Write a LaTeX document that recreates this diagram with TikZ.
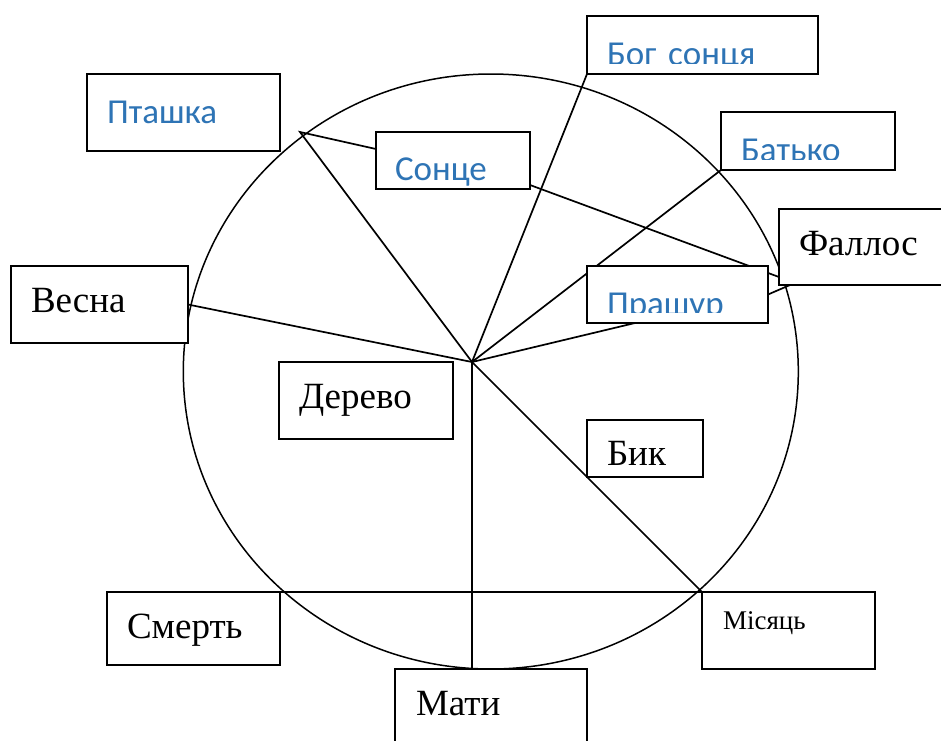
\documentclass[tikz,border=0pt]{standalone}
\usepackage{fontspec}
\setmainfont{Liberation Serif}
\newfontfamily\calibri{Carlito}
\usepackage{xcolor}
\usetikzlibrary{
    backgrounds,
    calc
}
\definecolor{wordblue}{HTML}{2E74B5}
\tikzset{box/.style={draw, fill=white, line width=1.9pt, anchor=north west, inner ysep=0pt, outer sep=0pt, align=left}}
\tikzset{big/.style={font=\fontsize{37}{40}\selectfont}}
\tikzset{blu/.style={font=\calibri\fontsize{35}{38}\selectfont, text=wordblue}}
\tikzset{link/.style={line width=1.7pt}}

\begin{document}
\begin{tikzpicture}[x=1pt, y=-1pt]
    \useasboundingbox (0,0) rectangle (941,740);
    \coordinate (hub) at (472,362);
    \coordinate (bird) at (300,132);
    % boxes
    \node[box, blu, inner xsep=20pt, text width=153pt, text height=49pt, text depth=28pt] (ptashka) at (87,74) {Пташка};
    \node[box, blu, inner xsep=19pt, text width=116pt, text height=48pt, text depth=9pt] (sontse) at (376,132) {Сонце};
    \node[box, blu, inner xsep=20pt, text width=191pt, text height=49pt, text depth=9pt] (bog) at (587,16) {Бог сонця};
    \node[box, blu, inner xsep=20pt, text width=134pt, text height=49pt, text depth=9pt] (batko) at (721,112) {Батько};
    \node[box, blu, inner xsep=20pt, text width=141pt, text height=49pt, text depth=8pt] (prashur) at (587,266) {Прашур};
    \node[box, big, inner xsep=20pt, text width=126pt, text height=46pt, text depth=30pt] (fallos) at (779,209) {Фаллос};
    \node[box, big, inner xsep=20pt, text width=137pt, text height=46pt, text depth=31pt] (vesna) at (11,266) {Весна};
    \node[box, big, inner xsep=20pt, text width=134pt, text height=46pt, text depth=31pt] (derevo) at (279,362) {Дерево};
    \node[box, big, inner xsep=20pt, text width=76pt, text height=45pt, text depth=12pt] (byk) at (587,420) {Бик};
    \node[box, big, inner xsep=20pt, text width=133pt, text height=46pt, text depth=27pt] (smert) at (107,592) {Смерть};
    \node[box, inner xsep=21pt, text width=131pt, text height=37pt, text depth=40pt, font=\fontsize{27}{30}\selectfont] (misiats) at (702,592) {Місяць};
    \node[box, big, inner xsep=21pt, text width=150pt, text height=46pt, text depth=31pt] (maty) at (395,669) {Мати};
    % text cut off at the box bottom
    \foreach \b in {bog,batko,prashur}
        \fill[white] ([xshift=1pt, yshift=1pt]\b.south west) rectangle ([xshift=-1pt, yshift=10pt]\b.south east);
    % circle and spokes
    \begin{scope}[on background layer]
        \draw[line width=1.5pt] (490.8,371.5) ellipse [x radius=307.5pt, y radius=297.5pt];
        \draw[link] (hub) -- (bird) -- ([yshift=-17pt]sontse.north west);
        \draw[link] (hub) -- (vesna.east);
        \draw[link] (hub) -- (bog.south west);
        \draw[link] (hub) -- (batko.south west);
        \draw[link] (hub) -- ([xshift=48pt]prashur.south west);
        \draw[link] (prashur.east) -- ([xshift=11pt]fallos.south west);
        \draw[link] ([yshift=4pt]sontse.south east) -- ([yshift=8pt]fallos.south west);
        \draw[link] (hub) -- (hub |- maty.north);
        \draw[link] (hub) -- (misiats.north west);
        \draw[link] (smert.north east) -- (misiats.north west);
    \end{scope}
\end{tikzpicture}
\end{document}
